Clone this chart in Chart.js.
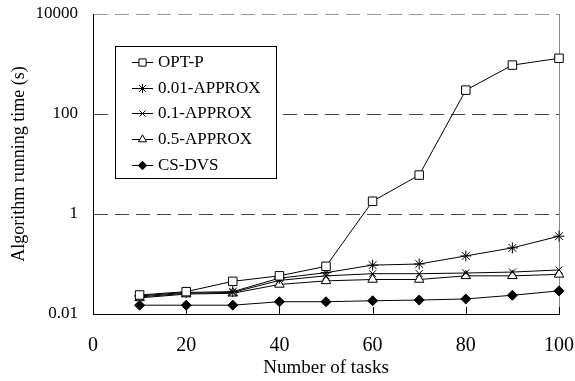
<!DOCTYPE html>
<html>
<head>
<meta charset="utf-8">
<script src="https://cdn.jsdelivr.net/npm/chart.js@4/dist/chart.umd.min.js"></script>
<style>
html,body{margin:0;padding:0;background:#fff;}
canvas{display:block;}
</style>
</head>
<body>
<canvas id="c" width="575" height="381"></canvas>
<script>
const tasks = [10, 20, 30, 40, 50, 60, 70, 80, 90, 100];
const optP      = [0.024, 0.028, 0.045, 0.058, 0.09, 1.8, 6.0, 300, 950, 1300];
const approx001 = [0.023, 0.027, 0.028, 0.052, 0.067, 0.095, 0.10, 0.145, 0.21, 0.36];
const approx01  = [0.022, 0.026, 0.027, 0.047, 0.058, 0.064, 0.064, 0.066, 0.069, 0.076];
const approx05  = [0.021, 0.025, 0.026, 0.039, 0.046, 0.049, 0.049, 0.058, 0.058, 0.062];
const csDvs     = [0.015, 0.015, 0.015, 0.0176, 0.0176, 0.0184, 0.019, 0.020, 0.0237, 0.029];
const seriesNames = ['OPT-P', '0.01-APPROX', '0.1-APPROX', '0.5-APPROX', 'CS-DVS'];
const yTickValues = [0.01, 1, 100, 10000];
const yTickLabels = ['0.01', '1', '100', '10000'];
const xTickValues = [0, 20, 40, 60, 80, 100];

const FONT = '"Liberation Serif", "Times New Roman", serif';

function pts(arr) { return arr.map((v, i) => ({x: tasks[i], y: v})); }

const styles = [
  {pointStyle: 'rect', radius: 6, bg: '#fff'},
  {pointStyle: 'star', radius: 5.5, bg: '#fff'},
  {pointStyle: 'crossRot', radius: 5, bg: '#fff'},
  {pointStyle: 'triangle', radius: 5.5, bg: '#fff'},
  {pointStyle: 'rectRot', radius: 5, bg: '#000'}
];
const allSeries = [optP, approx001, approx01, approx05, csDvs];

const datasets = allSeries.map((s, i) => ({
  label: seriesNames[i],
  data: pts(s),
  borderColor: '#000',
  borderWidth: 1,
  pointStyle: styles[i].pointStyle,
  pointRadius: styles[i].radius,
  pointHoverRadius: styles[i].radius,
  pointBackgroundColor: styles[i].bg,
  pointBorderColor: '#000',
  pointBorderWidth: 1,
  tension: 0,
  clip: false
}));

function drawMarker(ctx, style, r, x, y) {
  if (Chart.helpers && Chart.helpers.drawPoint) {
    Chart.helpers.drawPoint(ctx, {pointStyle: style, rotation: 0, radius: r, borderWidth: 1}, x, y);
  }
}

const extras = {
  id: 'extras',
  afterDraw(chart) {
    const ctx = chart.ctx;
    const xs = chart.scales.x;
    const area = chart.chartArea;
    ctx.save();
    // inward ticks on x axis
    ctx.strokeStyle = '#000';
    ctx.lineWidth = 1;
    xTickValues.forEach(v => {
      const px = Math.round(xs.getPixelForValue(v)) + 0.5;
      ctx.beginPath();
      ctx.moveTo(px, area.bottom);
      ctx.lineTo(px, area.bottom - 7);
      ctx.stroke();
    });
    // legend box
    const bx = 115.5, by = 46.5, bw = 161, bh = 132;
    ctx.fillStyle = '#fff';
    ctx.fillRect(bx, by, bw, bh);
    ctx.strokeStyle = '#000';
    ctx.strokeRect(bx, by, bw, bh);
    const rowY = [62, 88, 113, 139, 165];
    chart.data.datasets.forEach((ds, i) => {
      const y = rowY[i];
      ctx.strokeStyle = '#000';
      ctx.lineWidth = 1;
      ctx.beginPath();
      ctx.moveTo(132, y + 0.5);
      ctx.lineTo(153, y + 0.5);
      ctx.stroke();
      ctx.fillStyle = ds.pointBackgroundColor;
      ctx.strokeStyle = '#000';
      ctx.lineWidth = 1;
      drawMarker(ctx, ds.pointStyle, ds.pointRadius * 0.85, 142.5, y + 0.5);
      ctx.font = '17px ' + FONT;
      ctx.textBaseline = 'middle';
      ctx.textAlign = 'left';
      ctx.fillStyle = '#000';
      ctx.fillText(ds.label, 158, y + 1);
    });
    ctx.restore();
  }
};

new Chart(document.getElementById('c'), {
  type: 'line',
  data: {datasets},
  plugins: [extras],
  options: {
    responsive: false,
    animation: false,
    devicePixelRatio: 1,
    layout: {padding: {top: 14, right: 16, left: 0, bottom: 0}},
    plugins: {legend: {display: false}, tooltip: {enabled: false}},
    scales: {
      x: {
        type: 'linear',
        min: 0, max: 100,
        afterBuildTicks: s => { s.ticks = xTickValues.map(v => ({value: v})); },
        afterFit: s => { s.height = 67; s.paddingLeft = 0; s.paddingRight = 0; },
        ticks: {font: {family: FONT, size: 20}, color: '#000', padding: 20, maxRotation: 0},
        grid: {
          drawTicks: false,
          color: c => (c.tick && c.tick.value === 100) ? '#888' : 'rgba(0,0,0,0)',
          lineWidth: 1
        },
        border: {display: true, color: '#000', width: 1},
        title: {display: true, text: 'Number of tasks', font: {family: FONT, size: 19, lineHeight: 1.2}, color: '#000', padding: {top: 0, bottom: 2}}
      },
      y: {
        type: 'logarithmic',
        min: 0.01, max: 10000,
        afterBuildTicks: s => { s.ticks = yTickValues.map(v => ({value: v})); },
        afterFit: s => { s.width = 93; s.paddingTop = 0; s.paddingBottom = 0; },
        ticks: {
          font: {family: FONT, size: 17}, color: '#000', padding: 15,
          callback: (v) => { const i = yTickValues.indexOf(v); return i >= 0 ? yTickLabels[i] : ''; }
        },
        grid: {
          drawTicks: false,
          color: c => {
            if (!c.tick) return '#444';
            if (c.tick.value === 0.01) return 'rgba(0,0,0,0)';
            if (c.tick.value === 10000) return '#999';
            return '#444';
          },
          lineWidth: 1
        },
        border: {display: true, color: '#000', width: 1, dash: [14, 7]},
        title: {display: true, text: 'Algorithm running time (s)', font: {family: FONT, size: 18, lineHeight: 1.2}, color: '#000', padding: {top: 8, bottom: 0}}
      }
    }
  }
});
</script>
</body>
</html>
